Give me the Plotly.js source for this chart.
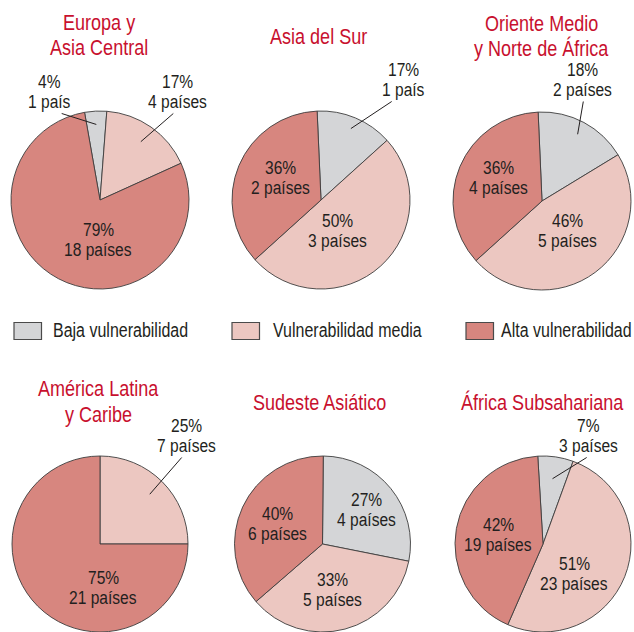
<!DOCTYPE html>
<html><head><meta charset="utf-8">
<script src="https://cdn.plot.ly/plotly-3.0.1.min.js"></script>
<style>
html,body{margin:0;padding:0;background:#fff}
/* the reference uses a condensed grotesque; emulate it by narrowing Liberation Sans */
.annotation-text{transform:scaleX(0.82);transform-box:fill-box;transform-origin:center}
</style>
</head><body><div id="chart" style="width:634px;height:632px"></div>
<script>
// ---------------- DATA ----------------
const categories = ['Baja vulnerabilidad', 'Vulnerabilidad media', 'Alta vulnerabilidad'];
const regionTitles = [
  ['Europa y', 'Asia Central'],
  ['Asia del Sur'],
  ['Oriente Medio', 'y Norte de África'],
  ['América Latina', 'y Caribe'],
  ['Sudeste Asiático'],
  ['África Subsahariana']
];
// slice shares as drawn (baja, media, alta)
const europaShares  = [4, 17, 79];
const asiaSurShares = [14, 50, 36];
const orienteShares = [17, 47, 36];
const americaShares = [0, 25, 75];
const sudesteShares = [28, 35.5, 36.5];
const africaShares  = [6.5, 51, 42.5];
// printed percentages
const europaPct  = [4, 17, 79];
const asiaSurPct = [17, 50, 36];
const orientePct = [18, 46, 36];
const americaPct = [null, 25, 75];
const sudestePct = [27, 33, 40];
const africaPct  = [7, 51, 42];
// number of countries
const europaPaises  = [1, 4, 18];
const asiaSurPaises = [1, 3, 2];
const orientePaises = [2, 5, 4];
const americaPaises = [0, 7, 21];
const sudestePaises = [4, 5, 6];
const africaPaises  = [3, 23, 19];

const sharesAll = [europaShares, asiaSurShares, orienteShares, americaShares, sudesteShares, africaShares];
const pctAll    = [europaPct, asiaSurPct, orientePct, americaPct, sudestePct, africaPct];
const paisesAll = [europaPaises, asiaSurPaises, orientePaises, americaPaises, sudestePaises, africaPaises];

// ---------------- STYLE / LAYOUT ----------------
const W = 634, H = 632;
const colors = ['#d4d5d7', '#ecc7c1', '#d7867f'];
const titleColor = '#c8102e';
const textColor = '#231f20';
const FONT = 'Liberation Sans, Arial, sans-serif';

// pie geometry (px): center x, center y, radius, rotation (deg)
const pieGeom = [
  {cx: 100,   cy: 200, r: 89, rot: -10},
  {cx: 321,   cy: 200, r: 89, rot: -2.5},
  {cx: 542,   cy: 201, r: 89, rot: -2.5},
  {cx: 100,   cy: 544, r: 88, rot: 0},
  {cx: 322.5, cy: 544, r: 88, rot: 0.5},
  {cx: 543,   cy: 544, r: 88, rot: -3.4}
];
// title block centers (px)
const titlePos = [[99, 35], [318, 36], [541, 36], [98, 401], [319, 402], [542, 402]];
// label placement per pie per slice: [x, y, leader?, tipFrac, tailDx]
const labelPos = [
  [[49, 92, true, 0.85, 12.7], [178, 92, true, 0.8, -4.7], [98, 240, false]],
  [[403, 80, true, 0.87, -11.3], [337, 231, false], [280, 178, false]],
  [[582, 80, true, 0.85, 1.3], [567, 231, false], [498, 178, false]],
  [null, [186, 436, true, 0.8, -4.3], [103, 588, false]],
  [[367, 510, false], [332, 590, false], [277, 524, false]],
  [[588, 436, true, 0.75, -1.3], [574, 574, false], [498, 535, false]]
];
// legend: box left edge, text center
const legendPos = [[14, 120.5], [232, 347.5], [466, 566]];
const legendY = 331;

const px = x => x / W;
const py = y => 1 - y / H;

const traces = [];
const annotations = [];
const shapes = [];

sharesAll.forEach((shares, i) => {
  const g = pieGeom[i];
  traces.push({
    type: 'pie',
    values: shares,
    labels: categories,
    sort: false,
    direction: 'clockwise',
    rotation: g.rot,
    marker: {colors: colors, line: {color: '#3d3d3d', width: 0.9}},
    textinfo: 'none',
    hoverinfo: 'skip',
    showlegend: false,
    domain: {x: [px(g.cx - g.r), px(g.cx + g.r)], y: [py(g.cy + g.r), py(g.cy - g.r)]}
  });

  // title
  const tl = regionTitles[i];
  tl.forEach((line, k) => {
    const y = titlePos[i][1] + (k - (tl.length - 1) / 2) * 25;
    annotations.push({xref: 'paper', yref: 'paper', x: px(titlePos[i][0]), y: py(y),
      xanchor: 'center', yanchor: 'middle', showarrow: false, text: line,
      font: {family: FONT, size: 22, color: titleColor}});
  });

  // labels
  const total = shares.reduce((a, b) => a + b, 0);
  let start = g.rot;
  shares.forEach((v, j) => {
    const span = v / total * 360;
    const mid = (start + span / 2) * Math.PI / 180;
    start += span;
    const lp = labelPos[i][j];
    if (!lp || v === 0) return;
    const n = paisesAll[i][j];
    const lines = [pctAll[i][j] + '%', n + (n === 1 ? ' país' : ' países')];
    lines.forEach((line, k) => {
      const y = lp[1] + (k - 0.5) * 20.5;
      annotations.push({xref: 'paper', yref: 'paper', x: px(lp[0]), y: py(y),
        xanchor: 'center', yanchor: 'middle', showarrow: false, text: line,
        font: {family: FONT, size: 19, color: textColor}});
    });
    if (lp[2]) {
      const tipR = g.r * lp[3];
      const tx = g.cx + tipR * Math.sin(mid);
      const ty = g.cy - tipR * Math.cos(mid);
      shapes.push({type: 'line', xref: 'paper', yref: 'paper',
        x0: px(lp[0] + lp[4]), y0: py(lp[1] + 21.5), x1: px(tx), y1: py(ty),
        line: {color: textColor, width: 1}});
    }
  });
});

// legend
categories.forEach((c, j) => {
  const lp = legendPos[j];
  shapes.push({type: 'rect', xref: 'paper', yref: 'paper',
    x0: px(lp[0]), x1: px(lp[0] + 27.5), y0: py(legendY + 8.5), y1: py(legendY - 8.5),
    fillcolor: colors[j], line: {color: '#4a4a4a', width: 1.2}});
  annotations.push({xref: 'paper', yref: 'paper', x: px(lp[1]), y: py(legendY),
    xanchor: 'center', yanchor: 'middle', showarrow: false, text: c,
    font: {family: FONT, size: 19.5, color: textColor}});
});

Plotly.newPlot('chart', traces, {
  width: W, height: H,
  margin: {l: 0, r: 0, t: 0, b: 0},
  paper_bgcolor: '#ffffff',
  showlegend: false,
  annotations: annotations,
  shapes: shapes
}, {staticPlot: true});
</script>
</body></html>
